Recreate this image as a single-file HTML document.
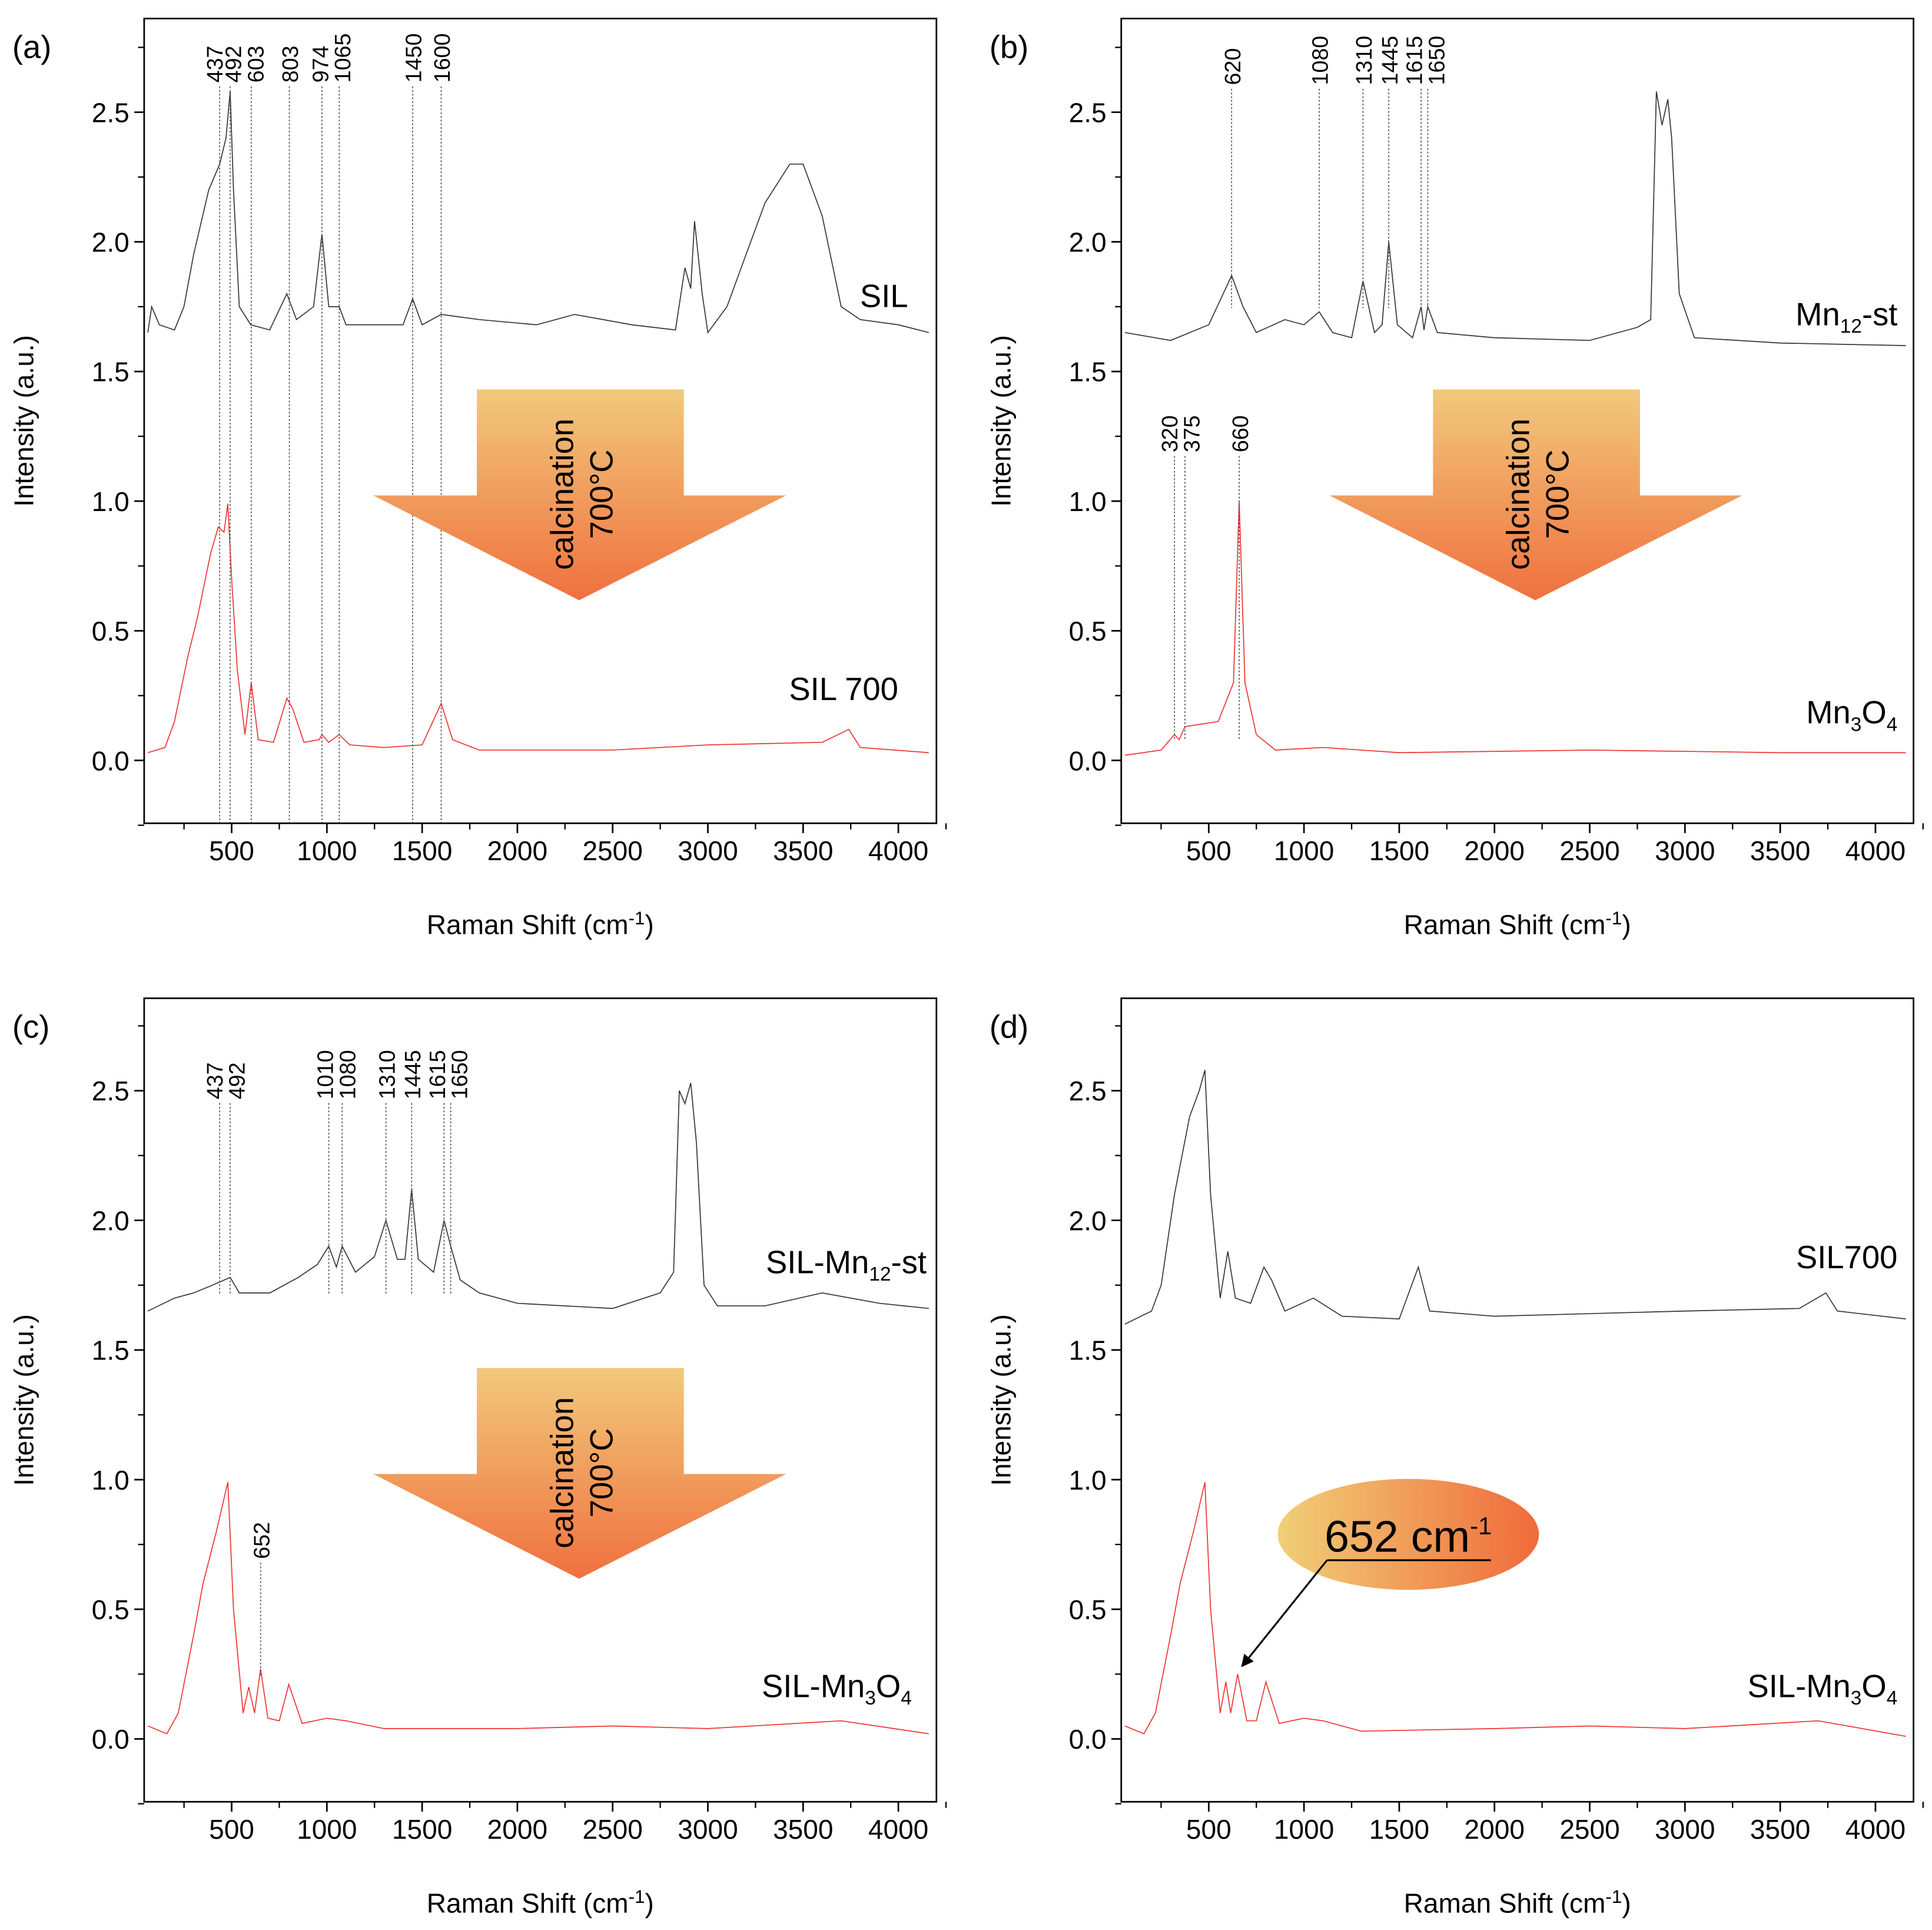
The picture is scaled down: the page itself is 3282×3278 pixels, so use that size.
<!DOCTYPE html>
<html><head><meta charset="utf-8"><style>
html,body{margin:0;padding:0;background:#fff}
svg{display:block}
text{font-family:"Liberation Sans",Arial,sans-serif}
</style></head><body>
<svg id="fig" width="3282" height="3278" viewBox="0 0 1568 1566" xmlns="http://www.w3.org/2000/svg">
<defs>
<linearGradient id="arrowGrad" x1="0" y1="0" x2="0" y2="1"><stop offset="0" stop-color="#f1c97c"/><stop offset="1" stop-color="#f0703f"/></linearGradient>
<linearGradient id="ellGrad" x1="0" y1="0" x2="1" y2="0"><stop offset="0" stop-color="#f1cf78"/><stop offset="1" stop-color="#f06a3a"/></linearGradient>
<marker id="ah" markerWidth="10" markerHeight="10" refX="9" refY="5" orient="auto" markerUnits="userSpaceOnUse"><path d="M0,0 L10,5 L0,10 z" fill="#000"/></marker>
</defs>
</svg>
<script>
// ---- data ----
const silX=[60,80,120,200,250,300,380,437,470,492,510,540,600,700,790,840,930,974,1010,1065,1100,1400,1450,1500,1600,1800,2100,2300,2600,2830,2880,2910,2930,2970,3000,3100,3200,3300,3430,3500,3600,3700,3800,4000,4160];
const silY=[1.65,1.75,1.68,1.66,1.75,1.95,2.2,2.3,2.4,2.58,2.2,1.75,1.68,1.66,1.8,1.7,1.75,2.03,1.75,1.75,1.68,1.68,1.78,1.68,1.72,1.7,1.68,1.72,1.68,1.66,1.9,1.82,2.08,1.8,1.65,1.75,1.95,2.15,2.3,2.3,2.1,1.75,1.7,1.68,1.65];
const sil700X=[60,150,200,270,320,390,430,460,480,500,530,570,603,640,720,790,820,880,960,974,1010,1065,1120,1300,1500,1600,1660,1800,2500,3000,3600,3740,3800,4160];
const sil700Y=[0.03,0.05,0.15,0.4,0.55,0.8,0.9,0.88,0.99,0.7,0.35,0.1,0.3,0.08,0.07,0.24,0.2,0.07,0.08,0.1,0.07,0.1,0.06,0.05,0.06,0.22,0.08,0.04,0.04,0.06,0.07,0.12,0.05,0.03];
const mn12X=[60,300,500,620,680,750,900,1000,1080,1150,1250,1310,1370,1410,1445,1490,1570,1615,1630,1650,1700,2000,2500,2750,2820,2850,2880,2910,2930,2970,3050,3500,4160];
const mn12Y=[1.65,1.62,1.68,1.87,1.75,1.65,1.7,1.68,1.73,1.65,1.63,1.85,1.65,1.68,2.0,1.68,1.63,1.75,1.66,1.75,1.65,1.63,1.62,1.67,1.7,2.58,2.45,2.55,2.4,1.8,1.63,1.61,1.6];
const mn3o4X=[60,250,320,345,375,550,630,660,690,750,850,1100,1500,2500,3500,4160];
const mn3o4Y=[0.02,0.04,0.1,0.08,0.13,0.15,0.3,1.0,0.3,0.1,0.04,0.05,0.03,0.04,0.03,0.03];
const silMn12X=[60,200,300,400,492,540,700,850,950,1010,1050,1080,1150,1250,1310,1370,1410,1445,1480,1560,1615,1650,1700,1800,2000,2500,2750,2820,2850,2880,2910,2940,2980,3050,3300,3600,3900,4160];
const silMn12Y=[1.65,1.7,1.72,1.75,1.78,1.72,1.72,1.78,1.83,1.9,1.82,1.9,1.8,1.86,2.0,1.85,1.85,2.12,1.85,1.8,2.0,1.9,1.77,1.72,1.68,1.66,1.72,1.8,2.5,2.45,2.53,2.3,1.75,1.67,1.67,1.72,1.68,1.66];
const silMn3o4X=[60,160,220,300,350,420,480,510,560,590,620,652,690,750,800,870,1000,1100,1300,2000,2500,3000,3700,4160];
const silMn3o4Y=[0.05,0.02,0.1,0.4,0.6,0.8,0.99,0.5,0.1,0.2,0.1,0.27,0.08,0.07,0.21,0.06,0.08,0.07,0.04,0.04,0.05,0.04,0.07,0.02];
const sil700bX=[60,200,250,320,400,450,480,510,560,600,640,720,790,830,900,1050,1200,1500,1600,1660,2000,3000,3600,3740,3800,4160];
const sil700bY=[1.6,1.65,1.75,2.1,2.4,2.5,2.58,2.1,1.7,1.88,1.7,1.68,1.82,1.77,1.65,1.7,1.63,1.62,1.82,1.65,1.63,1.65,1.66,1.72,1.65,1.62];
const silMn3o4dX=[60,160,220,300,350,420,480,510,560,590,615,652,700,750,800,870,1000,1100,1300,2000,2500,3000,3700,4160];
const silMn3o4dY=[0.05,0.02,0.1,0.4,0.6,0.8,0.99,0.5,0.1,0.22,0.1,0.25,0.07,0.07,0.22,0.06,0.08,0.07,0.03,0.04,0.05,0.04,0.07,0.01];
const xTicks=[500,1000,1500,2000,2500,3000,3500,4000];
const yTicks=[0,0.5,1,1.5,2,2.5];
const peaksA=[437,492,603,803,974,1065,1450,1600];
const peaksB=[620,1080,1310,1445,1615,1650];
const peaksB2=[320,375,660];
const peaksC=[437,492,1010,1080,1310,1445,1615,1650];

const NS='http://www.w3.org/2000/svg';
const svg=document.getElementById('fig');
function mk(tag,attrs,parent){const e=document.createElementNS(NS,tag);for(const k in attrs)e.setAttribute(k,attrs[k]);(parent||svg).appendChild(e);return e;}

function panel(id,L,T,R,B,y0,label,series,peakSets,texts){
  const g=mk('g',{});
  
  
  const sx=v=>L+71+(v-500)*0.1546;
  const sy=v=>y0-v*210.4;
  series.forEach(s=>{
    const p=mk('polyline',{points:s.x.map((v,i)=>sx(v).toFixed(1)+','+sy(s.y[i]).toFixed(1)).join(' '),fill:'none',stroke:s.c,'stroke-width':0.8},g);
    
    
  });
  peakSets.forEach(ps=>{
    const lx=ps.vals.map(v=>sx(v));
    const px=lx.slice();
    for(let i=1;i<px.length;i++){
      const d=px[i]-px[i-1];
      if(d<18){const s=(18-d)/2;px[i-1]-=s;px[i]+=s;}
    }
    ps.vals.forEach((v,i)=>{
      const x=lx[i];
      mk('line',{x1:x,y1:ps.top,x2:x,y2:ps.bot,stroke:'#555','stroke-width':0.8,'stroke-dasharray':'1.5,1.5'},g);
      const tx=px[i]+7;
      const t=mk('text',{x:tx,y:ps.top-3,'font-size':18,transform:`rotate(-90 ${tx} ${ps.top-3})`},g);
      t.textContent=v;
      
      
    });
  });
  const f=mk('rect',{x:L,y:T,width:R-L,height:B-T,fill:'none',stroke:'#000','stroke-width':1.3},g);
  
  
  xTicks.forEach(v=>{
    const x=sx(v);
    mk('line',{x1:x,y1:B,x2:x,y2:B+8,stroke:'#000','stroke-width':1.3},g);
    mk('line',{x1:x-38.65,y1:B,x2:x-38.65,y2:B+5,stroke:'#000','stroke-width':1.1},g);
    const t=mk('text',{x:x,y:B+30,'font-size':22,'text-anchor':'middle'},g);
    t.textContent=v;
    
    
  });
  mk('line',{x1:sx(4250),y1:B,x2:sx(4250),y2:B+5,stroke:'#000','stroke-width':1.1},g);
  yTicks.forEach(v=>{
    const y=sy(v);
    mk('line',{x1:L,y1:y,x2:L-8,y2:y,stroke:'#000','stroke-width':1.3},g);
    mk('line',{x1:L,y1:y-52.6,x2:L-5,y2:y-52.6,stroke:'#000','stroke-width':1.1},g);
    const t=mk('text',{x:L-12,y:y+8,'font-size':22,'text-anchor':'end'},g);
    t.textContent=v.toFixed(1);
    
    
  });
  mk('line',{x1:L,y1:sy(-0.25),x2:L-5,y2:sy(-0.25),stroke:'#000','stroke-width':1.1},g);
  const xt=mk('text',{x:(L+R)/2,y:B+90,'font-size':22,'text-anchor':'middle'},g);
  xt.innerHTML='Raman Shift (cm<tspan dy="-8" font-size="15">-1</tspan><tspan dy="8">)</tspan>';
  
  
  const cy=(T+B)/2;
  const yt=mk('text',{x:L-90,y:cy,'font-size':22,'text-anchor':'middle',transform:`rotate(-90 ${L-90} ${cy})`},g);
  yt.textContent='Intensity (a.u.)';
  
  
  const pl=mk('text',{x:L-107,y:T+32,'font-size':26},g);
  pl.textContent=label;
  
  
  texts.forEach(tx=>{
    const t=mk('text',{x:tx.x,y:tx.y,'font-size':26,'text-anchor':'end'},g);
    t.innerHTML=tx.h;
    
    
  });
  return g;
}
function arrow(cx,top){
  const g=mk('g',{});
  
  
  mk('polygon',{points:`${cx-83},${top} ${cx+85},${top} ${cx+85},${top+86} ${cx+168},${top+86} ${cx},${top+171} ${cx-167},${top+86} ${cx-83},${top+86}`,fill:'url(#arrowGrad)'},g);
  const a=mk('text',{x:cx-5,y:top+85,'font-size':26,'text-anchor':'middle',transform:`rotate(-90 ${cx-5} ${top+85})`},g);
  a.textContent='calcination';
  const b=mk('text',{x:cx+27,y:top+85,'font-size':26,'text-anchor':'middle',transform:`rotate(-90 ${cx+27} ${top+85})`},g);
  b.textContent='700°C';
}
const sub=s=>`<tspan dy="6" font-size="16">${s}</tspan><tspan dy="-6">`;
panel('a',117,15,760,668,617,'(a)',
 [{x:silX,y:silY,c:'#333',name:'sil-spectrum'},{x:sil700X,y:sil700Y,c:'#f03030',name:'sil700-spectrum'}],
 [{vals:peaksA,top:70,bot:668}],
 [{x:737,y:249,h:'SIL',n:'sil-label'},{x:729,y:568,h:'SIL 700',n:'sil700-label'}]);
arrow(470,316);
panel('b',910,15,1553,668,617,'(b)',
 [{x:mn12X,y:mn12Y,c:'#333',name:'mn12-st-spectrum'},{x:mn3o4X,y:mn3o4Y,c:'#f03030',name:'mn3o4-spectrum'}],
 [{vals:peaksB,top:72,bot:250},{vals:peaksB2,top:370,bot:600}],
 [{x:1540,y:264,h:'Mn'+sub('12')+'-st</tspan>',n:'mn12-st-label'},{x:1540,y:587,h:'Mn'+sub('3')+'O'+sub('4')+'</tspan></tspan>',n:'mn3o4-label'}]);
arrow(1246,316);
panel('c',117,810,760,1462,1411,'(c)',
 [{x:silMn12X,y:silMn12Y,c:'#333',name:'sil-mn12-st-spectrum'},{x:silMn3o4X,y:silMn3o4Y,c:'#f03030',name:'sil-mn3o4-spectrum'}],
 [{vals:peaksC,top:895,bot:1050},{vals:[652],top:1268,bot:1360}],
 [{x:752,y:1033,h:'SIL-Mn'+sub('12')+'-st</tspan>',n:'sil-mn12-st-label'},{x:740,y:1377,h:'SIL-Mn'+sub('3')+'O'+sub('4')+'</tspan></tspan>',n:'sil-mn3o4-label'}]);
arrow(470,1110);
panel('d',910,810,1553,1462,1411,'(d)',
 [{x:sil700bX,y:sil700bY,c:'#333',name:'sil700-spectrum-d'},{x:silMn3o4dX,y:silMn3o4dY,c:'#f03030',name:'sil-mn3o4-spectrum-d'}],
 [],
 [{x:1540,y:1029,h:'SIL700',n:'sil700-label-d'},{x:1540,y:1377,h:'SIL-Mn'+sub('3')+'O'+sub('4')+'</tspan></tspan>',n:'sil-mn3o4-label-d'}]);
const eg=mk('g',{});


mk('ellipse',{cx:1143,cy:1245,rx:106,ry:45,fill:'url(#ellGrad)'},eg);
const et=mk('text',{x:1075,y:1259,'font-size':36},eg);
et.innerHTML='652 cm<tspan dy="-14" font-size="20">-1</tspan>';
mk('line',{x1:1077,y1:1266,x2:1210,y2:1266,stroke:'#000','stroke-width':1.5},eg);
mk('line',{x1:1077,y1:1266,x2:1008,y2:1352,stroke:'#000','stroke-width':1.5,'marker-end':'url(#ah)'},eg);
</script>
</body></html>
